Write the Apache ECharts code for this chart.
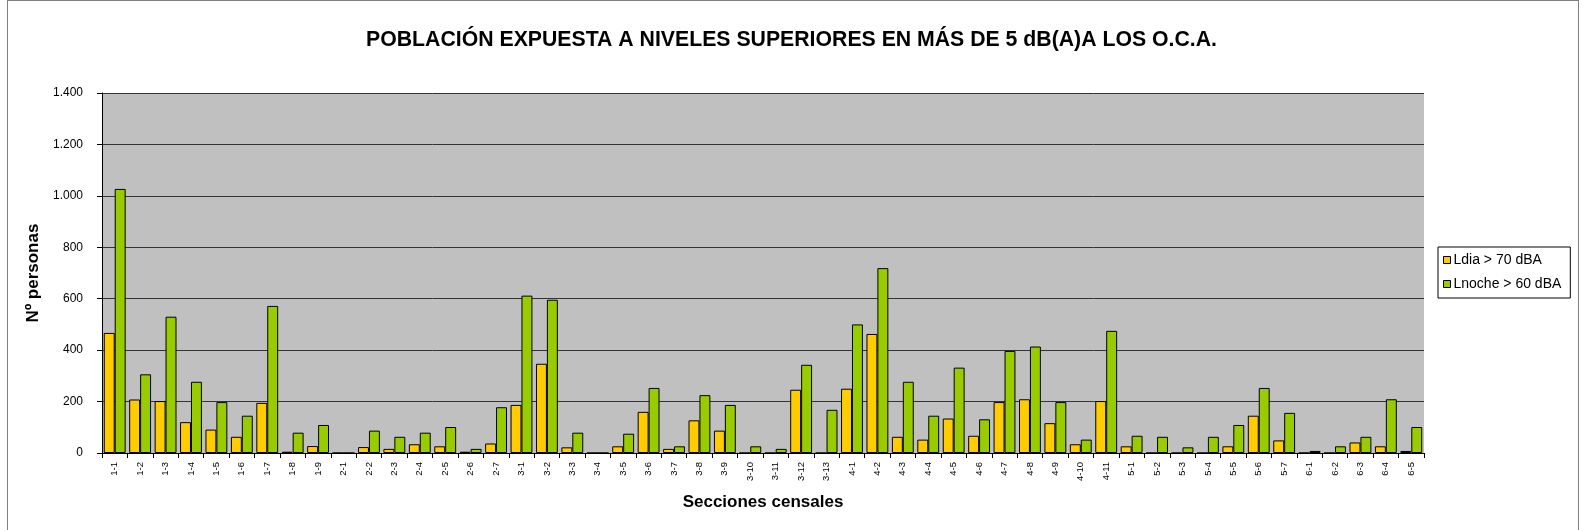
<!DOCTYPE html>
<html>
<head>
<meta charset="utf-8">
<script src="https://cdn.jsdelivr.net/npm/echarts@6/dist/echarts.min.js"></script>
<style>
    html, body { margin: 0; padding: 0; background: #fff; }
    #frame { position: absolute; left: 7px; top: 0; width: 1570px; height: 540px;
             border: 1px solid #808080; border-bottom: none; }
    #main { position: absolute; left: 0; top: 0; width: 1583px; height: 530px; }
</style>
</head>
<body>
<div id="frame"></div>
<div id="main"></div>
<script>
// secciones censales
let categories = [
    '1-1', '1-2', '1-3', '1-4', '1-5', '1-6', '1-7', '1-8', '1-9',
    '2-1', '2-2', '2-3', '2-4', '2-5', '2-6', '2-7',
    '3-1', '3-2', '3-3', '3-4', '3-5', '3-6', '3-7', '3-8', '3-9', '3-10', '3-11', '3-12', '3-13',
    '4-1', '4-2', '4-3', '4-4', '4-5', '4-6', '4-7', '4-8', '4-9', '4-10', '4-11',
    '5-1', '5-2', '5-3', '5-4', '5-5', '5-6', '5-7',
    '6-1', '6-2', '6-3', '6-4', '6-5'
];

let ldia = [
    467, 208, 202, 120, 91, 63, 195, 5, 27,
    0, 23, 16, 34, 26, 5, 37,
    187, 347, 22, 0, 26, 160, 16, 127, 87, 0, 0, 246, 0,
    250, 463, 63, 52, 134, 67, 198, 209, 116, 34, 202,
    26, 0, 0, 0, 26, 145, 49,
    0, 0, 41, 26, 8
];

let lnoche = [
    1027, 306, 530, 277, 198, 145, 572, 79, 109,
    0, 87, 63, 79, 101, 16, 178,
    612, 596, 79, 0, 75, 253, 26, 225, 187, 26, 16, 343, 168,
    500, 719, 277, 145, 332, 131, 397, 414, 198, 52, 475,
    67, 63, 22, 63, 109, 253, 156,
    8, 26, 63, 209, 101
];

let yTicks = { min: 0, max: 1400, interval: 200 };

let font = 'Arial, "Liberation Sans", sans-serif';

let barStyle = (color) => ({ color: color, borderColor: '#000', borderWidth: 1 });

const option = {
    animation: false,
    title: {
        text: 'POBLACIÓN EXPUESTA A NIVELES SUPERIORES EN MÁS DE 5 dB(A)A LOS O.C.A.',
        left: 'center',
        top: 25,
        textStyle: { fontFamily: font, fontSize: 21.25, fontWeight: 'bold', color: '#000' }
    },
    legend: {
        orient: 'vertical',
        left: 1438,
        top: 247,
        padding: [6, 9, 7, 5],
        itemGap: 10,
        itemWidth: 7,
        itemHeight: 7,
        borderColor: '#000',
        borderWidth: 1,
        backgroundColor: '#fff',
        icon: 'rect',
        itemStyle: { borderColor: '#000', borderWidth: 1 },
        textStyle: { fontFamily: font, fontSize: 14, lineHeight: 14, color: '#000', padding: [0, 0, 0, -2] },
        data: ['Ldia > 70 dBA', 'Lnoche > 60 dBA']
    },
    grid: {
        left: 102,
        top: 93,
        right: 159,
        bottom: 77,
        show: true,
        backgroundColor: '#C0C0C0',
        borderWidth: 0
    },
    xAxis: {
        type: 'category',
        data: categories,
        name: 'Secciones censales',
        nameLocation: 'middle',
        nameGap: 41,
        nameTextStyle: { fontFamily: font, fontSize: 17, fontWeight: 'bold', color: '#000' },
        axisLine: { lineStyle: { color: '#000', width: 1 } },
        axisTick: { show: true, length: 5, lineStyle: { color: '#000' } },
        axisLabel: { rotate: 90, fontFamily: font, fontSize: 9.5, color: '#000', margin: 9, interval: 0 }
    },
    yAxis: {
        type: 'value',
        min: yTicks.min,
        max: yTicks.max,
        interval: yTicks.interval,
        name: 'Nº personas',
        nameLocation: 'middle',
        nameGap: 51,
        nameTextStyle: { fontFamily: font, fontSize: 17, fontWeight: 'bold', color: '#000' },
        axisLine: { show: true, lineStyle: { color: '#000', width: 1 } },
        axisTick: { show: true, length: 5, lineStyle: { color: '#000' } },
        axisLabel: {
            fontFamily: font, fontSize: 12, color: '#000', margin: 19,
            formatter: v => String(v).replace(/\B(?=(\d{3})+(?!\d))/g, '.')
        },
        splitLine: { lineStyle: { color: '#333', width: 1 } }
    },
    series: [
        {
            name: 'Ldia > 70 dBA',
            type: 'bar',
            data: ldia,
            barGap: '0%',
            barCategoryGap: '14%',
            itemStyle: barStyle('#FFCC00')
        },
        {
            name: 'Lnoche > 60 dBA',
            type: 'bar',
            data: lnoche,
            itemStyle: barStyle('#99CC00')
        }
    ]
};

let plot = echarts.init(document.querySelector('#main'));
plot.setOption(option);
</script>
</body>
</html>
